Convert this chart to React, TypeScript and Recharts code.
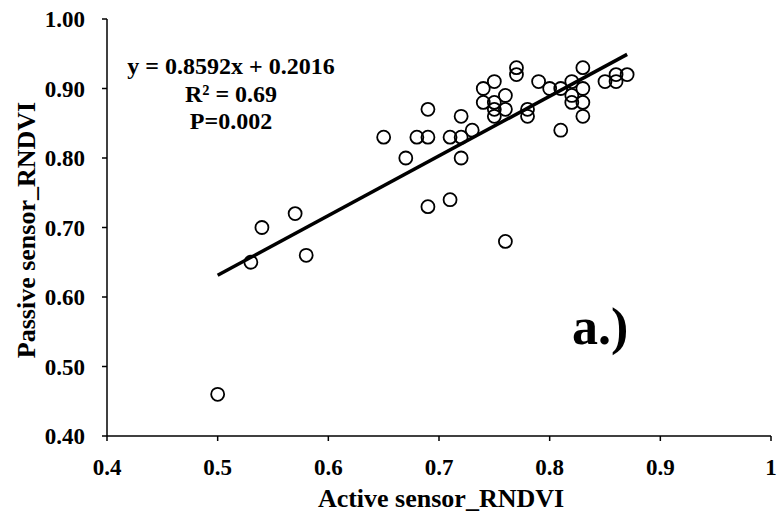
import { Label, ReferenceLine, Scatter, ScatterChart, XAxis, YAxis } from 'recharts';

// Active sensor (x) vs passive sensor (y) RNDVI readings
const activeRNDVI = [
  0.5, 0.53, 0.54, 0.57, 0.58, 0.65, 0.67, 0.68, 0.69, 0.69, 0.69, 0.71, 0.71, 0.72, 0.72, 0.72,
  0.73, 0.74, 0.74, 0.75, 0.75, 0.75, 0.75, 0.76, 0.76, 0.76, 0.77, 0.77, 0.78, 0.78, 0.79, 0.8,
  0.81, 0.81, 0.82, 0.82, 0.82, 0.83, 0.83, 0.83, 0.83, 0.85, 0.86, 0.86, 0.87,
];
const passiveRNDVI = [
  0.46, 0.65, 0.7, 0.72, 0.66, 0.83, 0.8, 0.83, 0.87, 0.83, 0.73, 0.83, 0.74, 0.86, 0.83, 0.8,
  0.84, 0.9, 0.88, 0.91, 0.88, 0.87, 0.86, 0.89, 0.87, 0.68, 0.93, 0.92, 0.87, 0.86, 0.91, 0.9,
  0.9, 0.84, 0.91, 0.89, 0.88, 0.93, 0.9, 0.88, 0.86, 0.91, 0.92, 0.91, 0.92,
];

const xTicks = [0.4, 0.5, 0.6, 0.7, 0.8, 0.9, 1];
const yTicks = [0.4, 0.5, 0.6, 0.7, 0.8, 0.9, 1.0];

// linear fit shown on the chart
const slope = 0.8592;
const intercept = 0.2016;
const fitRange = [0.5, 0.87];
const statLines = ['y = 0.8592x + 0.2016', 'R² = 0.69', 'P=0.002'];

const points = activeRNDVI.map((x, i) => ({ x, y: passiveRNDVI[i] }));
const fitSegment = fitRange.map((x) => ({ x, y: slope * x + intercept }));

const font = '"Liberation Serif", "Times New Roman", serif';
const tickStyle = { fill: '#000', fontFamily: font, fontWeight: 700, fontSize: 23 };
const titleStyle = { fill: '#000', fontFamily: font, fontWeight: 700, fontSize: 26 };

const Ring = (props: any) => (
  <circle cx={props.cx} cy={props.cy} r={6.5} fill="none" stroke="#000" strokeWidth={1.8} />
);

const XTick = ({ x, y, payload }: any) => (
  <text x={x} y={y + 34} textAnchor="middle" style={tickStyle}>
    {payload.value === 1 ? '1' : Number(payload.value).toFixed(1)}
  </text>
);

const YTick = ({ x, y, payload }: any) => (
  <text x={x} y={y + 8} textAnchor="end" style={tickStyle}>
    {Number(payload.value).toFixed(2)}
  </text>
);

export default function App() {
  return (
    <div style={{ position: 'absolute', left: 0, top: 0, width: 782, height: 520, background: '#fff' }}>
      <ScatterChart width={782} height={520} margin={{ top: 19, right: 11, bottom: 0, left: 0 }}>
        <XAxis
          type="number"
          dataKey="x"
          domain={[0.4, 1]}
          ticks={xTicks}
          height={84}
          stroke="#000"
          strokeWidth={1.5}
          tickSize={5}
          tickMargin={0}
          tick={XTick}
        >
          <Label
            content={() => (
              <text x={441} y={507} textAnchor="middle" style={titleStyle}>
                Active sensor_RNDVI
              </text>
            )}
          />
        </XAxis>
        <YAxis
          type="number"
          dataKey="y"
          domain={[0.4, 1]}
          ticks={yTicks}
          width={107}
          stroke="#000"
          strokeWidth={1.5}
          tickSize={5}
          tickMargin={17}
          tick={YTick}
        >
          <Label
            content={() => (
              <text x={35} y={230} transform="rotate(-90 35 230)" textAnchor="middle" style={titleStyle}>
                Passive sensor_RNDVI
              </text>
            )}
          />
        </YAxis>
        <ReferenceLine segment={fitSegment} stroke="#000" strokeWidth={3.5} ifOverflow="visible" />
        <Scatter data={points} shape={Ring} isAnimationActive={false} />
      </ScatterChart>
      <div
        style={{
          position: 'absolute',
          left: 81,
          top: 53,
          width: 300,
          textAlign: 'center',
          fontFamily: font,
          fontWeight: 700,
          fontSize: 24,
          lineHeight: '27.5px',
        }}
      >
        {statLines.map((s) => (
          <div key={s}>{s}</div>
        ))}
      </div>
      <div
        style={{
          position: 'absolute',
          left: 572,
          top: 297,
          fontFamily: font,
          fontWeight: 700,
          fontSize: 52,
          lineHeight: '60px',
        }}
      >
        a.)
      </div>
    </div>
  );
}
